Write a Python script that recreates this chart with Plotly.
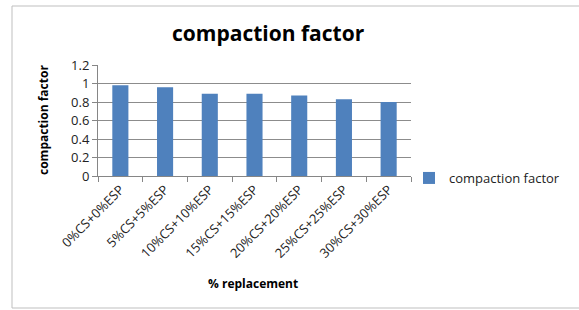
import plotly.graph_objects as go

categories = ["0%CS+0%ESP", "5%CS+5%ESP", "10%CS+10%ESP", "15%CS+15%ESP",
              "20%CS+20%ESP", "25%CS+25%ESP", "30%CS+30%ESP"]
values = [0.98, 0.96, 0.89, 0.89, 0.87, 0.83, 0.80]
series_name = "compaction factor"
y_ticks = [0, 0.2, 0.4, 0.6, 0.8, 1.0, 1.2]
y_tick_labels = ["0", "0.2", "0.4", "0.6", "0.8", "1", "1.2"]

W, H = 579, 310
L, R, T, B = 98, 411, 65, 176
pw, ph = R - L, B - T

def px(x):
    return (x - L) / pw

def py(y):
    return (B - y) / ph

font_family = "Open Sans, Liberation Sans, sans-serif"

fig = go.Figure()
fig.add_trace(go.Bar(
    x=categories, y=values, name=series_name,
    marker=dict(color="#4F81BD", line=dict(width=0)),
    showlegend=True,
))

fig.update_layout(
    width=W, height=H,
    margin=dict(l=L, r=W - R, t=T, b=H - B, pad=0, autoexpand=False),
    paper_bgcolor="white", plot_bgcolor="white",
    bargap=0.64,
    font=dict(family=font_family, size=12, color="#222"),
    showlegend=True,
    legend=dict(
        x=409 / W, y=1 - 178 / H, xanchor="left", yanchor="middle",
        xref="container", yref="container",
        font=dict(size=13, color="#222"),
        itemwidth=30, bgcolor="rgba(0,0,0,0)",
    ),
    xaxis=dict(
        type="category", tickangle=-45, automargin=False,
        showline=True, linecolor="#868686", linewidth=1,
        ticks="outside", ticklen=5, tickcolor="#868686", tickson="boundaries",
        showgrid=False, tickfont=dict(size=13, color="#222"),
        fixedrange=True,
    ),
    yaxis=dict(
        range=[0, 1.2], tickvals=y_ticks, ticktext=y_tick_labels, automargin=False,
        showgrid=True, gridcolor="#8c8c8c", gridwidth=1,
        showline=True, linecolor="#868686", linewidth=1,
        ticks="outside", ticklen=5, tickcolor="#868686",
        tickfont=dict(size=13, color="#222"), zeroline=False,
        fixedrange=True,
    ),
    annotations=[
        dict(text="<b>compaction factor</b>", x=px(268), y=py(33),
             xref="paper", yref="paper", showarrow=False,
             xanchor="center", yanchor="middle",
             font=dict(size=21, color="black")),
        dict(text="<b>compaction factor</b>", x=px(43), y=py(120),
             xref="paper", yref="paper", showarrow=False, textangle=-90,
             xanchor="center", yanchor="middle",
             font=dict(size=12, color="black")),
        dict(text="<b>% replacement</b>", x=px(253), y=py(283),
             xref="paper", yref="paper", showarrow=False,
             xanchor="center", yanchor="middle",
             font=dict(size=12, color="black")),
    ],
    shapes=[
        dict(type="rect", xref="paper", yref="paper",
             x0=px(12), x1=px(600), y0=py(308), y1=py(6),
             line=dict(color="#bfbfbf", width=1), fillcolor="rgba(0,0,0,0)",
             layer="below"),
    ],
)

fig.write_html("out.html",
               config={"displayModeBar": False},
               post_script="document.body.style.margin='0';document.body.style.overflow='hidden';")
